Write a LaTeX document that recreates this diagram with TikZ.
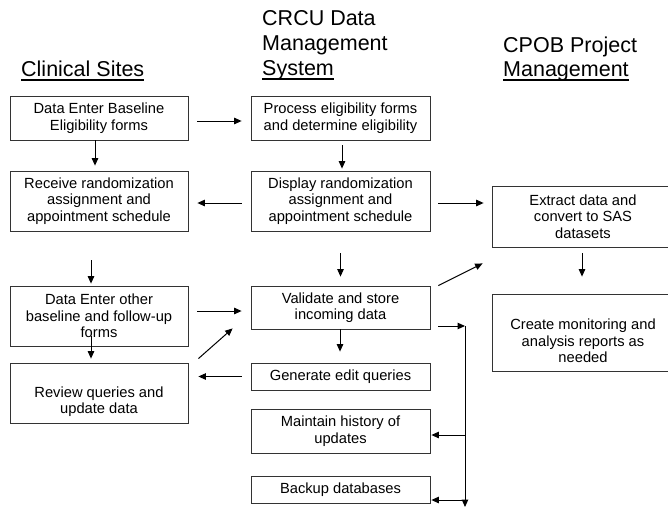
\documentclass[tikz,border=0pt]{standalone}
\usepackage{fontspec}
\setmainfont{Liberation Sans}
\usetikzlibrary{arrows.meta}
\newcommand\boxfont{\fontsize{14.7}{16.5}\selectfont}
\newcommand\hdrfont{\fontsize{21.5}{25}\selectfont}
\begin{document}
\begin{tikzpicture}[x=1pt,y=-1pt,
  box/.style={draw=black!80, line width=0.8pt, align=center, inner sep=0pt,
    font=\boxfont, minimum width=178pt},
  hdr/.style={inner sep=0pt, font=\hdrfont, anchor=base west},
  uline/.style={line width=1.1pt},
  arr/.style={-{Triangle[length=7.5pt,width=6.5pt]}, line width=1pt}]
\useasboundingbox (0,0) rectangle (668,508);
\clip (0,0) rectangle (668,508);

% column headings
\node[hdr] (hcs) at (21,77) {Clinical Sites};
\node[hdr] (hc1) at (262,26) {CRCU Data};
\node[hdr] (hc2) at (262,51) {Management};
\node[hdr] (hc3) at (262,76) {System};
\node[hdr] (hp1) at (503,53) {CPOB Project};
\node[hdr] (hp2) at (503,77) {Management};
\draw[uline] ([yshift=-3pt]hcs.base west) -- ([yshift=-3pt]hcs.base east);
\draw[uline] ([yshift=-3pt]hc3.base west) -- ([yshift=-3pt]hc3.base east);
\draw[uline] ([yshift=-3pt]hp2.base west) -- ([yshift=-3pt]hp2.base east);

% clinical sites
\node[box, minimum height=44pt] (l1) at (99,118) {Data Enter Baseline\\Eligibility forms};
\node[box, minimum height=60pt] (l2) at (99,201) {Receive randomization\\assignment and\\appointment schedule};
\node[box, minimum height=60pt] (l3) at (99,316) {Data Enter other\\baseline and follow-up\\forms};
\node[box, minimum height=60pt] (l4) at (99,393) {\strut\\Review queries and\\update data};

% data management system
\node[box, minimum width=179pt, minimum height=44pt] (m1) at (340.5,118) {Process eligibility forms\\and determine eligibility};
\node[box, minimum width=179pt, minimum height=60pt] (m2) at (340.5,201) {Display randomization\\assignment and\\appointment schedule};
\node[box, minimum width=179pt, minimum height=43pt] (m3) at (340.5,307.5) {Validate and store\\incoming data};
\node[box, minimum width=179pt, minimum height=27pt] (m4) at (340.5,376.5) {Generate edit queries};
\node[box, minimum width=179pt, minimum height=44pt] (m5) at (340.5,431) {Maintain history of\\updates};
\node[box, minimum width=179pt, minimum height=27pt] (m6) at (340.5,489.5) {Backup databases};

% project management
\node[box, minimum width=182pt, minimum height=61pt] (r1) at (583,216.5) {Extract data and\\convert to SAS\\datasets};
\node[box, minimum width=182pt, minimum height=77pt] (r2) at (583,332.5) {\strut\\Create monitoring and\\analysis reports as\\needed};

% distribution line on the right of the store step
\coordinate (bt) at (465,326);
\coordinate (bb) at (465,507);

% connectors
\draw[arr, shorten <=9pt, shorten >=9pt] ([yshift=-3pt]l1.east) -- ([yshift=-3pt]l1.east -| m1.west);
\draw[arr, shorten >=5pt] ([xshift=-4pt]l1.south) -- ([xshift=-4pt]l2.north);
\draw[arr, shorten <=5pt, shorten >=2pt] ([xshift=1.5pt]m1.south) -- ([xshift=1.5pt]m2.north);
\draw[arr, shorten <=9pt, shorten >=9pt] ([yshift=-2pt]m2.west) -- ([yshift=-2pt]m2.west -| l2.east);
\draw[arr, shorten <=8pt, shorten >=8pt] ([yshift=-2pt]m2.east) -- ([yshift=-2pt]m2.east -| r1.west);
\draw[arr, shorten <=29pt, shorten >=2pt] ([xshift=-8pt]l2.south) -- ([xshift=-8pt]l3.north);
\draw[arr, shorten <=22pt, shorten >=9pt] (m2.south) -- (m3.north);
\draw[arr, shorten <=9pt, shorten >=9pt] ([yshift=-3.5pt]m3.west -| l3.east) -- ([yshift=-3.5pt]m3.west);
\draw[arr] ([shift={(10pt,4pt)}]l4.north east) -- ([shift={(-18pt,1pt)}]m3.south west);
\draw[arr, shorten >=4pt] ([xshift=-8pt,yshift=10pt]l3.south) -- ([xshift=-8pt]l4.north);
\draw[arr, shorten <=9pt, shorten >=10pt] (m4.west) -- (m4.west -| l4.east);
\draw[arr, shorten >=11pt] ([xshift=-0.5pt]m3.south) -- ([xshift=-0.5pt]m4.north);
\draw[arr, shorten <=8pt] ([yshift=-18.5pt]m3.east) -- ([yshift=-18.5pt]m3.east -| bt);
\draw[arr] ([shift={(8pt,0pt)}]m3.north east) -- ([shift={(-9pt,-16pt)}]r1.south west);
\draw[arr, shorten <=6pt, shorten >=17pt] ([xshift=-1pt]r1.south) -- ([xshift=-1pt]r2.north);
\draw[arr] (bt) -- (bb);
\draw[arr, shorten >=1pt] ([yshift=-4pt]m5.east -| bt) -- ([yshift=-4pt]m5.east);
\draw[arr, shorten >=1pt] ([yshift=-10.5pt]m6.east -| bt) -- ([yshift=-10.5pt]m6.east);
\end{tikzpicture}
\end{document}
